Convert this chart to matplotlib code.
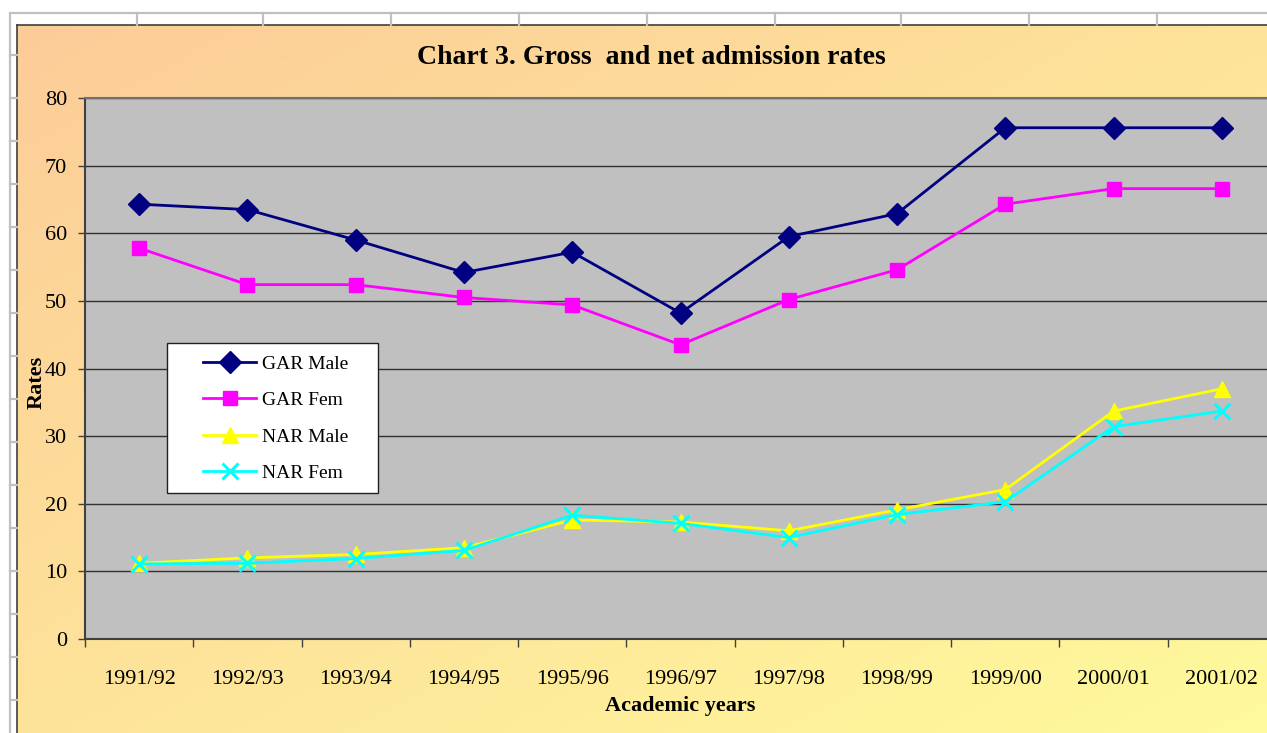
#!/usr/bin/env python3
"""
Chart 3 - gross and net admission rates (Excel-style line chart)
"""
import numpy as np
import matplotlib
matplotlib.use("Agg")
import matplotlib.pyplot as plt
from matplotlib.lines import Line2D
from matplotlib.patches import Rectangle

years = ["1991/92", "1992/93", "1993/94", "1994/95", "1995/96", "1996/97",
         "1997/98", "1998/99", "1999/00", "2000/01", "2001/02"]
gar_male = [64.3, 63.5, 59.0, 54.2, 57.2, 48.2, 59.5, 62.9, 75.6, 75.6, 75.6]
gar_fem  = [57.8, 52.4, 52.4, 50.5, 49.4, 43.5, 50.2, 54.6, 64.3, 66.6, 66.6]
nar_male = [11.2, 12.0, 12.5, 13.5, 17.6, 17.3, 16.0, 19.1, 22.1, 33.7, 37.0]
nar_fem  = [11.1, 11.2, 11.9, 13.1, 18.3, 17.1, 15.0, 18.4, 20.3, 31.4, 33.7]

W, H = 1267, 733
SERIF = ["Liberation Serif", "DejaVu Serif"]
GRID = "#c0c0c0"
PEACH = np.array([252, 204, 152]) / 255
YELLOW = np.array([255, 250, 156]) / 255


def fx(px):
    return px / W


def fy(py):
    return 1 - py / H


fig = plt.figure(figsize=(W / 100, H / 100), dpi=100)
fig.patch.set_facecolor("white")

# ── spreadsheet cells around the chart ───────────────────────
fig.add_artist(Line2D([fx(10), 1], [fy(13), fy(13)], color=GRID, lw=1.6))
fig.add_artist(Line2D([fx(10), fx(10)], [fy(13), 0], color=GRID, lw=1.6))
for cx in [137, 263, 391, 519, 647, 775, 901, 1029, 1157]:
    fig.add_artist(Line2D([fx(cx), fx(cx)], [fy(13), fy(25)], color=GRID, lw=1.6))
for cy in range(55, 733, 43):
    fig.add_artist(Line2D([fx(10), fx(17)], [fy(cy), fy(cy)], color=GRID, lw=1.6))

# ── chart area with diagonal gradient ────────────────────────
bg = fig.add_axes([fx(17), 0, 1 - fx(17), fy(25)])
gx, gy = np.meshgrid(np.linspace(0, 1, 300), np.linspace(0, 1, 200))
t = np.clip((gx + gy) / 2, 0, 1)[..., None]
bg.imshow(PEACH * (1 - t) + YELLOW * t, aspect="auto", extent=(0, 1, 1, 0))
bg.set_xticks([]); bg.set_yticks([])
for side in ["right", "bottom"]:
    bg.spines[side].set_visible(False)
for side in ["top", "left"]:
    bg.spines[side].set_color("#404040")
    bg.spines[side].set_linewidth(1.2)

# ── plot area ────────────────────────────────────────────────
ax = fig.add_axes([fx(85), fy(639), (1276 - 85) / W, (639 - 98) / H])
ax.set_facecolor("#c0c0c0")
x = np.arange(len(years))
ax.plot(x, gar_male, color="#000080", lw=2.0, marker="D", ms=11, label="GAR Male")
ax.plot(x, gar_fem, color="#ff00ff", lw=2.0, marker="s", ms=9.5, label="GAR Fem")
ax.plot(x, nar_male, color="#ffff00", lw=2.0, marker="^", ms=11, label="NAR Male")
ax.plot(x, nar_fem, color="#00ffff", lw=2.0, marker="x", ms=11, mew=2.2,
        label="NAR Fem")

ax.set_xlim(-0.5, len(years) - 0.5)
ax.set_ylim(0, 80)
ax.set_yticks(range(0, 81, 10))
ax.grid(axis="y", color="#303030", lw=1)
ax.set_axisbelow(True)
ax.set_xticks(x)
ax.set_xticklabels(years, fontfamily=SERIF, fontsize=16)
ax.set_xticks(np.arange(-0.5, len(years)), minor=True)
ax.tick_params(axis="x", which="major", length=0, pad=22)
ax.tick_params(axis="x", which="minor", length=6, width=1, color="#404040")
ax.tick_params(axis="y", length=5, width=1, color="#404040", pad=8, labelsize=16)
for lab in ax.get_yticklabels():
    lab.set_fontfamily(SERIF)
ax.spines["right"].set_visible(False)
ax.spines["top"].set_color("#707070")
ax.spines["left"].set_color("#404040")
ax.spines["bottom"].set_color("#404040")
for side in ["top", "left", "bottom"]:
    ax.spines[side].set_linewidth(1.5)

# legend: white box drawn separately so the padding matches Excel's
box = Rectangle((fx(167), fy(493)), fx(378) - fx(167), fy(343) - fy(493),
                transform=fig.transFigure, facecolor="white",
                edgecolor="#202020", lw=1, zorder=4, clip_on=False)
ax.add_patch(box)
leg = ax.legend(loc="upper left", bbox_to_anchor=(fx(203), fy(355)),
                bbox_transform=fig.transFigure, frameon=False,
                prop={"family": SERIF, "size": 14}, handlelength=2.75,
                handletextpad=0.3, labelspacing=0.97, borderpad=0,
                borderaxespad=0)
leg.set_zorder(6)

# ── texts ────────────────────────────────────────────────────
fig.text(fx(651), fy(57), "Chart 3. Gross  and net admission rates",
         ha="center", va="center", fontsize=20, fontweight="bold",
         fontfamily=SERIF)
fig.text(fx(37), fy(382), "Rates", ha="center", va="center", rotation=90,
         fontsize=16, fontweight="bold", fontfamily=SERIF)
fig.text(fx(680), fy(706), "Academic years", ha="center", va="center",
         fontsize=16, fontweight="bold", fontfamily=SERIF)

fig.savefig("out.png", dpi=100, facecolor="white")
plt.close(fig)
